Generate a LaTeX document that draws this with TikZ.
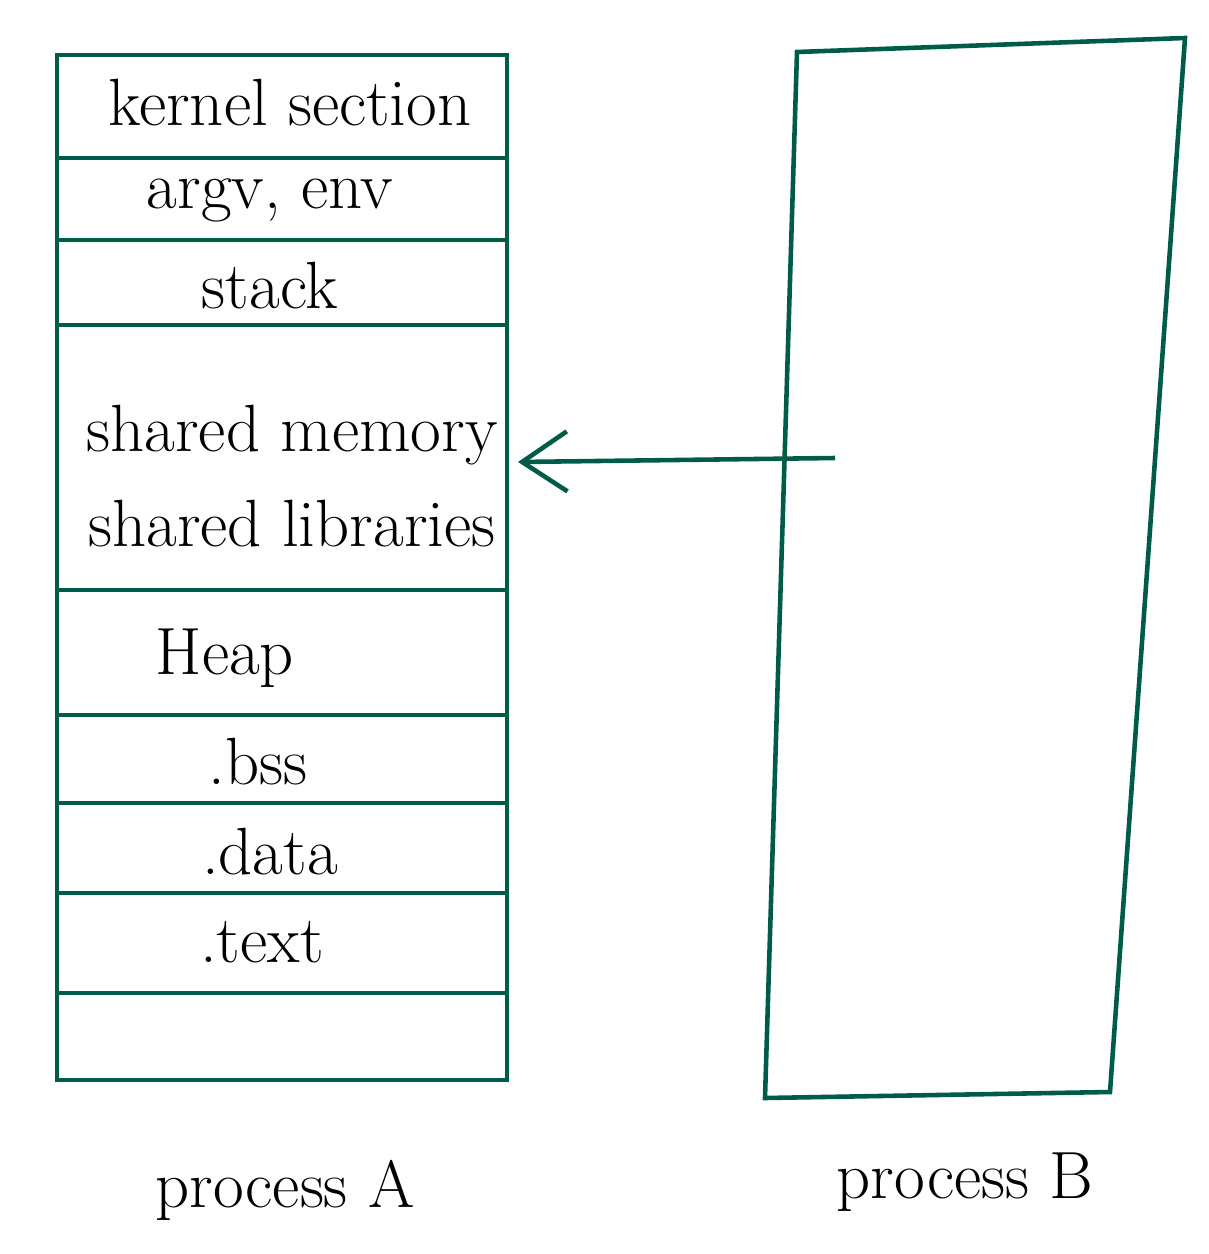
\documentclass[tikz,border=0pt]{standalone}
\usepackage{tikz}
\usetikzlibrary{arrows.meta}
\definecolor{pen}{RGB}{0,92,72}
\tikzset{seg/.style={pen, line width=1.3pt},
  lbl/.style={text=black, font=\fontsize{19}{23}\selectfont}}
\begin{document}
\begin{tikzpicture}[x=0.01cm, y=-0.01cm]
\useasboundingbox (0,0) rectangle (1208,1254);
% process A
\draw[seg] (57,55) rectangle (507,1080);
\foreach \y in {158,240,325,590,715,803,893,993}{
	\draw[seg] (57,\y)--(507,\y);
}
\node[lbl] (kernel) at (290,103) {kernel section};
\node[lbl] (argv) at (270,200) {argv, env};
\node[lbl] (stack) at (270,286) {stack};
\node[lbl, align=center] (shared) at (292,476) {shared memory\\[4pt]shared libraries};
\node[lbl] (heap) at (225,658) {Heap};
\node[lbl] (bss) at (258,762) {.bss};
\node[lbl] (data) at (270,852) {.data};
\node[lbl] (text) at (262,942) {.text};
\node[lbl] (procA) at (285,1190) {process A};
% process B
\draw[seg] (797,52)--(1185,38)--(1110,1092)--(765,1098)--cycle;
\node[lbl] (procB) at (965,1182) {process B};
\coordinate (bsrc) at (835,458);
\coordinate (ain) at (518,462);
\draw[seg, -{Straight Barb[length=4.5mm,width=6mm,line width=1.3pt]}] (bsrc)--(ain);
\end{tikzpicture}
\end{document}
